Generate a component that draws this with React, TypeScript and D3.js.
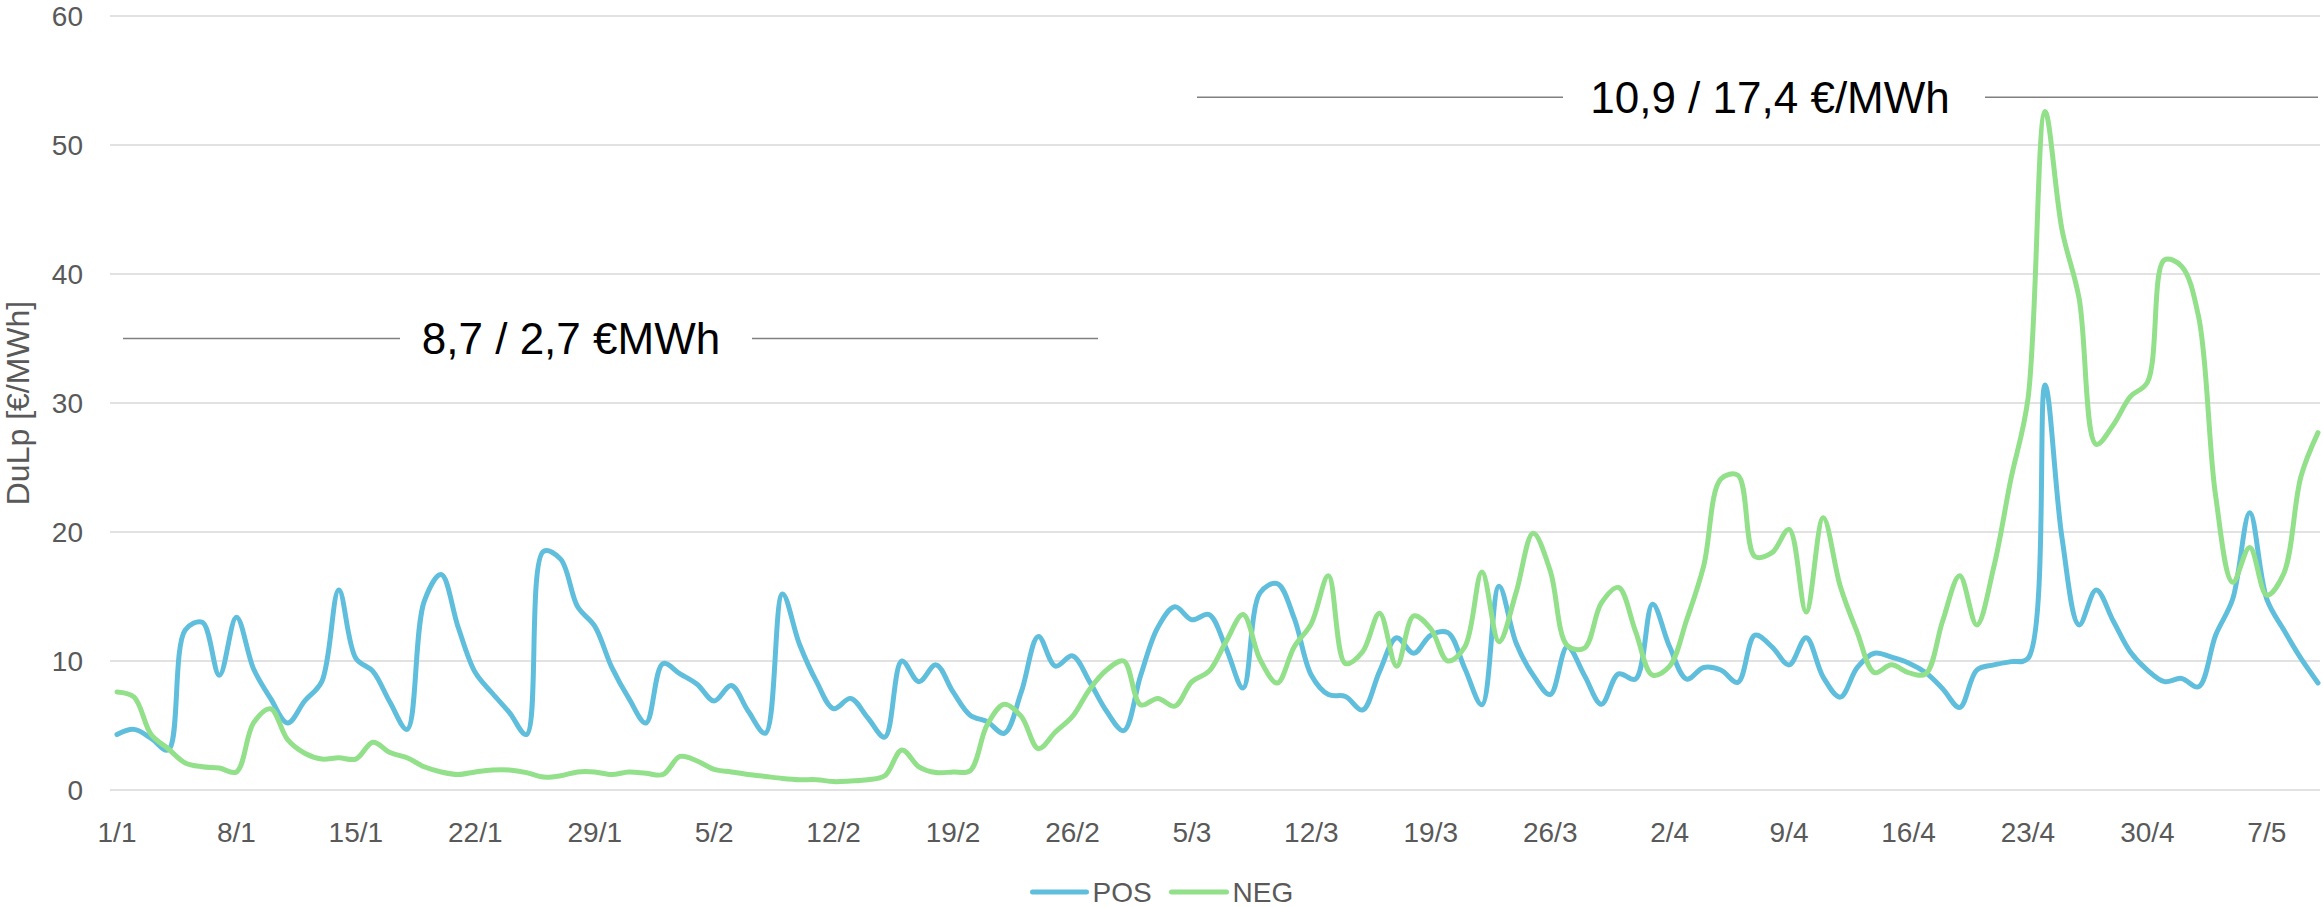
import React, { useMemo } from "react";
import * as d3 from "d3";

// ---- data (daily values from 1/1 to 10/5) ----
const START_DATE = new Date(2023, 0, 1);

const POS = [
  4.3, 4.7, 4.0, 3.1, 12.4, 13.0, 8.9, 13.4, 9.4, 7.1,
  5.2, 6.9, 8.4, 15.5, 10.2, 9.2, 6.8, 4.7, 14.6, 16.7,
  12.6, 9.1, 7.5, 6.0, 4.3, 18.5, 17.9, 14.2, 12.7, 9.5,
  7.1, 5.2, 9.8, 9.0, 8.2, 6.9, 8.1, 6.1, 4.4, 15.2,
  11.3, 8.4, 6.3, 7.1, 5.6, 4.1, 10.0, 8.4, 9.7, 7.6,
  5.8, 5.3, 4.4, 7.6, 11.9, 9.6, 10.4, 8.4, 6.1, 4.6,
  8.9, 12.6, 14.2, 13.2, 13.6, 11.0, 7.9, 15.3, 16.0, 13.3,
  8.9, 7.4, 7.25, 6.2, 9.2, 11.8, 10.6, 12.0, 12.2, 9.4,
  6.6, 15.8, 11.4, 8.9, 7.4, 11.1, 8.9, 6.65, 9.0, 8.6,
  14.4, 11.1, 8.6, 9.5, 9.3, 8.35, 12.0, 11.1, 9.7, 11.8,
  8.75, 7.2, 9.5, 10.6, 10.3, 9.85, 9.1, 7.85, 6.4, 9.3,
  9.7, 9.95, 10.2, 31.4, 19.5, 12.8, 15.5, 13.1, 10.7, 9.3,
  8.4, 8.65, 8.0, 12.0, 14.8, 21.5, 14.8, 12.4, 10.2, 8.3,
];

const NEG = [
  7.6, 7.2, 4.3, 3.2, 2.1, 1.8, 1.7, 1.4, 5.2, 6.3,
  3.9, 2.85, 2.4, 2.5, 2.4, 3.7, 2.9, 2.5, 1.8, 1.4,
  1.2, 1.4, 1.55, 1.55, 1.35, 1.0, 1.1, 1.4, 1.4, 1.2,
  1.4, 1.3, 1.2, 2.6, 2.25, 1.6, 1.4, 1.2, 1.05, 0.9,
  0.8, 0.8, 0.65, 0.7, 0.8, 1.1, 3.1, 1.8, 1.35, 1.4,
  1.5, 5.05, 6.65, 5.7, 3.2, 4.5, 5.7, 7.8, 9.3, 10.0,
  6.6, 7.1, 6.5, 8.4, 9.2, 11.5, 13.6, 10.1, 8.3, 11.1,
  12.9, 16.6, 9.8, 10.7, 13.7, 9.6, 13.5, 12.5, 10.0, 11.1,
  16.9, 11.5, 15.3, 19.9, 17.0, 11.2, 11.0, 14.5, 15.7, 12.3,
  8.9, 9.6, 13.2, 17.4, 24.1, 24.4, 18.1, 18.4, 20.2, 13.8,
  21.1, 15.8, 12.2, 9.1, 9.7, 9.1, 9.0, 13.1, 16.6, 12.8,
  17.3, 24.1, 30.3, 52.6, 43.4, 38.1, 26.8, 28.3, 30.5, 31.6,
  41.1, 40.6, 36.7, 22.8, 16.1, 18.8, 15.1, 16.8, 24.3, 27.7,
];

const Y_TICKS = [0, 10, 20, 30, 40, 50, 60];
const SERIES_NAMES = ["POS", "NEG"];
const ANNOTATION_LABELS = ["8,7 / 2,7 €MWh", "10,9 / 17,4 €/MWh"];
const ANNOTATION_VALUES = [35.0, 53.7];

const COLORS = { POS: "#60BEDD", NEG: "#92E08A" };
const W = 2323;
const H = 907;
const FONT = "'Liberation Sans', Arial, Helvetica, sans-serif";

export default function App() {
  const dates = useMemo(() => POS.map((_, i) => d3.timeDay.offset(START_DATE, i)), []);
  const x = d3
    .scaleTime()
    .domain([dates[0], dates[dates.length - 1]])
    .range([117, 2318]);
  const y = d3.scaleLinear().domain([0, 60]).range([790, 16]);

  const line = d3
    .line<number>()
    .x((_, i) => x(dates[i]))
    .y((d) => y(d))
    .curve(d3.curveCatmullRom.alpha(0.5));

  const xTicks = d3.timeDay.range(dates[0], d3.timeDay.offset(dates[dates.length - 1], 1), 7);
  const fmt = d3.timeFormat("%-d/%-m");

  const gridX0 = 110;
  const gridX1 = 2320;
  const annFont = 44;
  const cx = W / 2;

  // annotation layouts: [text center, left line x1, x2, right line x1, x2]
  const annLayout = [
    [571, 123, 400, 752, 1098],
    [1770, 1197, 1563, 1985, 2318],
  ];

  return (
    <svg
      width={W}
      height={H}
      style={{ position: "absolute", left: 0, top: 0, background: "#fff" }}
      fontFamily={FONT}
    >
      {/* gridlines */}
      {Y_TICKS.map((t) => (
        <line
          key={"g" + t}
          x1={gridX0}
          x2={gridX1}
          y1={y(t)}
          y2={y(t)}
          stroke="#d9d9d9"
          strokeWidth={1.5}
        />
      ))}
      {/* y tick labels */}
      {Y_TICKS.map((t) => (
        <text
          key={"yl" + t}
          x={83}
          y={y(t) + 10}
          textAnchor="end"
          fontSize={28}
          fill="#595959"
        >
          {t}
        </text>
      ))}
      {/* x tick labels */}
      {xTicks.map((d) => (
        <text
          key={"xl" + +d}
          x={x(d)}
          y={842}
          textAnchor="middle"
          fontSize={28}
          fill="#595959"
        >
          {fmt(d)}
        </text>
      ))}
      {/* y axis title */}
      <text
        transform={`translate(29, ${(y(0) + y(60)) / 2}) rotate(-90)`}
        textAnchor="middle"
        fontSize={32}
        fill="#595959"
      >
        DuLp [€/MWh]
      </text>

      {/* annotations */}
      {ANNOTATION_LABELS.map((label, k) => {
        const yy = y(ANNOTATION_VALUES[k]);
        const [tc, a1, a2, b1, b2] = annLayout[k];
        return (
          <g key={"ann" + k}>
            <text
              x={tc}
              y={yy + annFont * 0.36}
              textAnchor="middle"
              fontSize={annFont}
              fill="#000"
            >
              {label}
            </text>
            <line x1={a1} x2={a2} y1={yy} y2={yy} stroke="#808080" strokeWidth={1.6} />
            <line x1={b1} x2={b2} y1={yy} y2={yy} stroke="#808080" strokeWidth={1.6} />
          </g>
        );
      })}

      {/* series lines */}
      <path d={line(POS) || ""} fill="none" stroke={COLORS.POS} strokeWidth={5} strokeLinejoin="round" strokeLinecap="round" />
      <path d={line(NEG) || ""} fill="none" stroke={COLORS.NEG} strokeWidth={5} strokeLinejoin="round" strokeLinecap="round" />

      {/* legend */}
      <g>
        <line x1={cx - 129} x2={cx - 75} y1={892} y2={892} stroke={COLORS.POS} strokeWidth={5} strokeLinecap="round" />
        <text x={cx - 69} y={892 + 10} fontSize={28} fill="#595959">{SERIES_NAMES[0]}</text>
        <line x1={cx + 10} x2={cx + 65} y1={892} y2={892} stroke={COLORS.NEG} strokeWidth={5} strokeLinecap="round" />
        <text x={cx + 71} y={892 + 10} fontSize={28} fill="#595959">{SERIES_NAMES[1]}</text>
      </g>
    </svg>
  );
}
